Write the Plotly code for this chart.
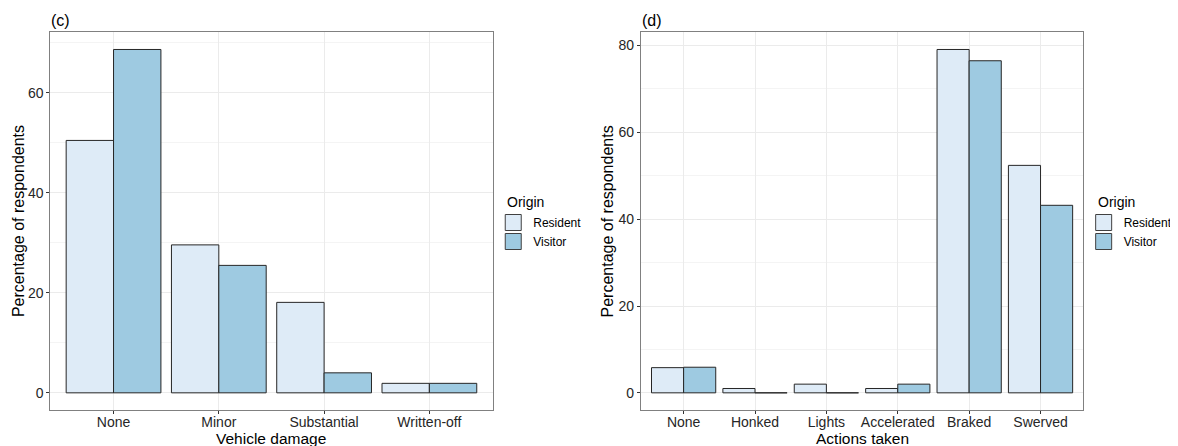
import plotly.graph_objects as go

damage_cats = ["None", "Minor", "Substantial", "Written-off"]
damage_resident = [50.5, 29.6, 18.1, 1.9]
damage_visitor = [68.7, 25.5, 4.0, 1.9]

action_cats = ["None", "Honked", "Lights", "Accelerated", "Braked", "Swerved"]
action_resident = [5.8, 1.0, 2.0, 1.0, 79.1, 52.4]
action_visitor = [5.9, 0.0, 0.0, 2.0, 76.5, 43.2]

origins = ["Resident", "Visitor"]
colors = {"Resident": "#deebf7", "Visitor": "#9ecae1"}

# page is rendered with an 8px body margin; work in page pixels and shift
OFF = 8
PAGE_W, PAGE_H = 1178, 446
W, H = PAGE_W - OFF, PAGE_H - OFF
FONT = "Liberation Sans, Arial, sans-serif"
EDGE = "#262626"

def px(v):
    return (v - OFF) / W

def py(v):
    return 1 - (v - OFF) / H

fig = go.Figure()

def add_pair(cats, res, vis, xa, ya, legend):
    for name, vals in zip(origins, [res, vis]):
        fig.add_trace(go.Bar(
            x=cats, y=vals, name=name, xaxis=xa, yaxis=ya, showlegend=False,
            marker=dict(color=colors[name], line=dict(color=EDGE, width=1)),
            hoverinfo="x+y+name",
        ))
    # legend keys (no data drawn)
    for name in origins:
        fig.add_trace(go.Scatter(
            x=[None], y=[None], mode="markers", name=name, xaxis=xa, yaxis=ya,
            legend=legend, showlegend=True,
            marker=dict(symbol="square", size=16, color=colors[name],
                        line=dict(color="#404040", width=1)),
        ))

add_pair(damage_cats, damage_resident, damage_visitor, "x", "y", "legend")
add_pair(action_cats, action_resident, action_visitor, "x2", "y2", "legend2")

# panel geometry (page pixels)
L1, R1 = 50.7, 496.3
L2, R2 = 645.7, 1091.7
TOP, BOT = 32.3, 410.0

def yrange(res, vis):
    m = max(max(res), max(vis))
    return [-0.05 * m, 1.05 * m]

axis_common = dict(
    showline=True, linecolor="#808080", linewidth=1, mirror=True,
    ticks="outside", ticklen=3, tickcolor="#333333", tickwidth=1,
    tickfont=dict(family=FONT, size=14, color="#262626"),
    showgrid=True, gridcolor="#ebebeb", gridwidth=1, zeroline=False,
    fixedrange=True,
)

legend_common = dict(
    xanchor="left", yanchor="top", font=dict(size=12, family=FONT, color="black"),
    tracegroupgap=0, itemwidth=30, bgcolor="rgba(0,0,0,0)", itemsizing="trace",
)

fig.update_layout(
    width=W, height=H,
    margin=dict(l=0, r=0, t=0, b=0),
    paper_bgcolor="white", plot_bgcolor="white",
    barmode="group", bargap=0.1, bargroupgap=0,
    font=dict(family=FONT, color="black"),
    xaxis=dict(domain=[px(L1), px(R1)], anchor="y", ticklabelstandoff=-4,
               range=[-0.6, len(damage_cats) - 0.4], **axis_common),
    yaxis=dict(domain=[py(BOT), py(TOP)], anchor="x",
               range=yrange(damage_resident, damage_visitor), dtick=20,
               minor=dict(dtick=10, showgrid=True, gridcolor="#f4f4f4", ticks=""),
               **axis_common),
    xaxis2=dict(domain=[px(L2), px(R2)], anchor="y2", ticklabelstandoff=-4,
                range=[-0.6, len(action_cats) - 0.4], **axis_common),
    yaxis2=dict(domain=[py(BOT), py(TOP)], anchor="x2",
                range=yrange(action_resident, action_visitor), dtick=20,
                minor=dict(dtick=10, showgrid=True, gridcolor="#f4f4f4", ticks=""),
                **axis_common),
    legend=dict(x=px(497), y=py(208), **legend_common),
    legend2=dict(x=px(1092), y=py(208), **legend_common),
    showlegend=True,
)

annotations = [
    dict(text="(c)", x=px(L1 - 1), y=py(20), xanchor="left", yanchor="middle", font=dict(size=16)),
    dict(text="(d)", x=px(L2 - 1), y=py(20), xanchor="left", yanchor="middle", font=dict(size=16)),
    dict(text="Origin", x=px(509), y=py(202), xanchor="left", yanchor="middle", font=dict(size=14)),
    dict(text="Origin", x=px(1104), y=py(202), xanchor="left", yanchor="middle", font=dict(size=14)),
    dict(text="Vehicle damage", x=px((L1 + R1) / 2), y=py(438), xanchor="center", yanchor="middle", font=dict(size=15.5)),
    dict(text="Actions taken", x=px((L2 + R2) / 2), y=py(438), xanchor="center", yanchor="middle", font=dict(size=15.5)),
    dict(text="Percentage of respondents", x=px(18), y=py((TOP + BOT) / 2), textangle=-90,
         xanchor="center", yanchor="middle", font=dict(size=16)),
    dict(text="Percentage of respondents", x=px(612), y=py((TOP + BOT) / 2), textangle=-90,
         xanchor="center", yanchor="middle", font=dict(size=16)),
]
for a in annotations:
    a.update(xref="paper", yref="paper", showarrow=False)
    a["font"]["family"] = FONT
    a["font"]["color"] = "black"
fig.update_layout(annotations=annotations)

fig.write_html("out.html")
